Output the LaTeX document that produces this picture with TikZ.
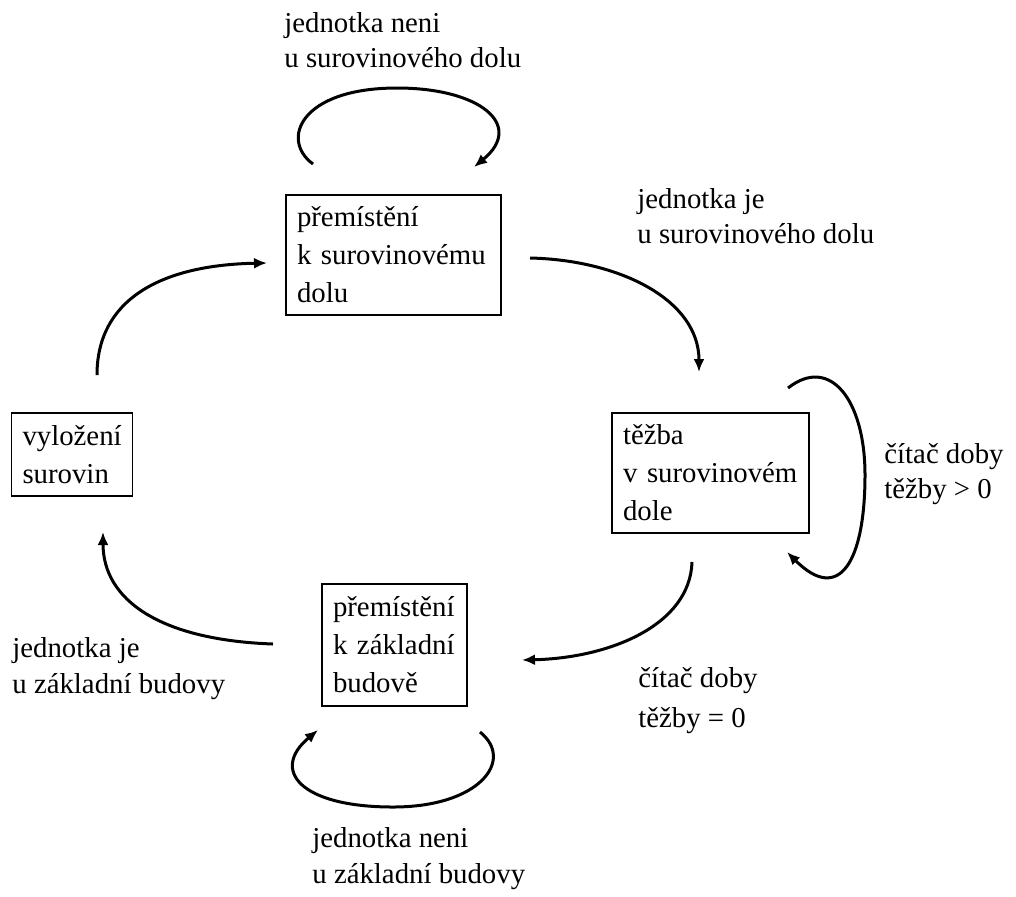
\documentclass[tikz,border=0pt]{standalone}
\usepackage{fontspec}
\setmainfont{Liberation Serif}
\usetikzlibrary{arrows.meta}
\begin{document}
\begin{tikzpicture}[x=0.5pt,y=-0.5pt,
  state/.style={draw=black,line width=0.6pt,align=left,inner xsep=5.5pt,inner ysep=0pt,
    font=\fontsize{14.4}{19}\selectfont},
  lbl/.style={anchor=base west,align=left,inner sep=0pt,font=\fontsize{14.4}{17.5}\selectfont},
  trans/.style={line width=1.5pt,-{Latex[length=6.5pt,width=5.5pt]}}]
\useasboundingbox (0,0) rectangle (1016,896);
% states
\node[state,text width=96.5pt,minimum height=60pt] (b1) at (393.5,255) {přemístění\\k surovinovému\\dolu};
\node[state,text width=87.5pt,minimum height=60pt] (b2) at (710.5,473) {těžba\\v surovinovém\\dole};
\node[state,text width=49.5pt,minimum height=41.5pt] (b3) at (72,454.5) {vyložení\\surovin};
\node[state,text width=61.5pt,minimum height=61pt] (b4) at (394.5,645) {přemístění\\k základní\\budově};
% labels (anchor at baseline of last line)
\node[lbl] (l1) at (284,67) {jednotka neni\\u surovinového dolu};
\node[lbl] (l2) at (637,243) {jednotka je\\u surovinového dolu};
\node[lbl] (l3) at (884,498) {čítač doby\\těžby > 0};
\node[lbl,font=\fontsize{14.4}{20}\selectfont] (l4) at (638,727) {čítač doby\\těžby = 0};
\node[lbl,font=\fontsize{14.4}{18}\selectfont] (l5) at (312,883) {jednotka neni\\u základní budovy};
\node[lbl,font=\fontsize{14.4}{18}\selectfont] (l6) at (12,693) {jednotka je\\u základní budovy};
% connector end points
\coordinate (t1s) at (313,164); \coordinate (t1e) at (474,167);
\coordinate (a12s) at (530,258); \coordinate (a12e) at (699,372);
\coordinate (t2s) at (788,388); \coordinate (t2e) at (787,552);
\coordinate (a24s) at (692,562); \coordinate (a24e) at (522,660);
\coordinate (t4s) at (480,732); \coordinate (t4e) at (318,730);
\coordinate (a43s) at (273,644); \coordinate (a43e) at (103,532);
\coordinate (a31s) at (97,375); \coordinate (a31e) at (267,263);
% transitions
\draw[trans] (t1s) .. controls (280,140) and (300,88) .. (397,88) .. controls (480,88) and (525,125) .. (t1e);
\draw[trans] (a12s) .. controls (620,260) and (699,300) .. (a12e);
\draw[trans] (t2s) .. controls (830,355) and (865,400) .. (865,475) .. controls (865,560) and (840,605) .. (t2e);
\draw[trans] (a24s) .. controls (690,625) and (610,658) .. (a24e);
\draw[trans] (t4s) .. controls (515,760) and (480,807) .. (393,807) .. controls (300,807) and (270,770) .. (t4e);
\draw[trans] (a43s) .. controls (160,640) and (103,600) .. (a43e);
\draw[trans] (a31s) .. controls (97,300) and (160,265) .. (a31e);
\end{tikzpicture}
\end{document}
